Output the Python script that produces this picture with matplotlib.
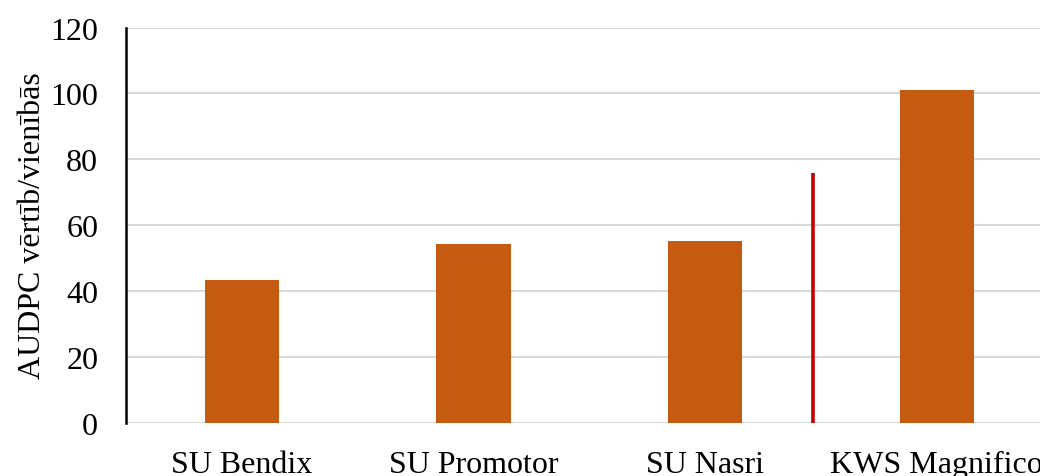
import matplotlib
matplotlib.use("Agg")
import matplotlib.pyplot as plt

categories = ["SU Bendix", "SU Promotor", "SU Nasri", "KWS Magnifico"]
values = [43.5, 54.3, 55.2, 101.2]
divider_x = 2.465
divider_top = 76
yticks = [0, 20, 40, 60, 80, 100, 120]
ylabel = "AUDPC vērtīb/vienībās"

plt.rcParams['font.family'] = ['Liberation Serif', 'DejaVu Serif']

fig = plt.figure(figsize=(10.4, 4.77), dpi=100)
ax_w = 1052.7 - 126
ax = fig.add_axes([126/1040, 1-424.3/477, ax_w/1040, (424.3-28.5)/477])

x = list(range(len(categories)))
ax.bar(x, values, width=0.32, color="#C55A11", zorder=3)
ax.plot([divider_x, divider_x], [0, divider_top], color="#C00000", lw=2.6, zorder=4, solid_capstyle='butt')

ax.set_xlim(-0.5, 3.5)
ax.set_ylim(0, 120)
ax.set_yticks(yticks)
ax.set_xticks(x)
ax.set_xticklabels(categories, fontsize=23)
ax.tick_params(axis='y', labelsize=23, length=0, pad=20)
ax.tick_params(axis='x', length=0, pad=19)
ax.yaxis.grid(True, color="#D9D9D9", lw=1.5, zorder=0)
ax.set_axisbelow(True)
for s in ["top", "right", "bottom"]:
    ax.spines[s].set_visible(False)
ax.spines["left"].set_linewidth(1.8)
ax.spines["left"].set_color("black")
ax.spines["left"].set_zorder(5)
ax.set_ylabel(ylabel, fontsize=23)
ax.yaxis.set_label_coords((47 - 126)/ax_w, (424.3-226)/(424.3-28.5))

fig.savefig("out.png", dpi=100)
